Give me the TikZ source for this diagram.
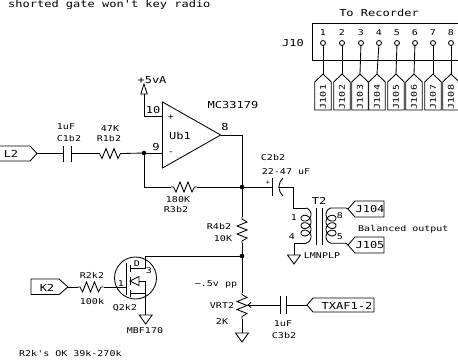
\documentclass[tikz,border=0pt]{standalone}
\usepackage{fontspec}
\newfontfamily\schfont[FakeStretch=1.25]{DejaVu Sans Mono}
\tikzset{
  wire/.style={line width=0.85pt,line join=miter},
  big/.style={inner sep=0pt,font=\schfont\fontsize{9.6}{10}\selectfont},
  small/.style={inner sep=0pt,font=\schfont\fontsize{8}{9}\selectfont},
  dot/.style={circle,fill=black,inner sep=0pt,minimum size=4.6pt},
  pin/.style={circle,draw,line width=0.85pt,fill=white,inner sep=0pt,minimum size=5pt},
  pics/resh/.style={code={\draw[wire] (-13,0)--(-10.5,0)--(-8,5)--(-4,-5)--(0,5)--(4,-5)--(8,5)--(10.5,0)--(13,0);}},
  pics/resv/.style={code={\draw[wire] (0,-13)--(0,-11)--(5,-8)--(-5,-4)--(5,0)--(-5,4)--(5,8)--(0,11)--(0,13);}},
  pics/gnd/.style={code={\draw[wire] (-6.5,0)--(6.5,0)--(0,9)--cycle;}},
  pics/vtag/.style={code={\draw[wire] (0,0)--(8.3,8)--(8.3,36)--(-8.3,36)--(-8.3,8)--cycle;}}
}
\begin{document}
\begin{tikzpicture}[x=1pt,y=-1pt]
\useasboundingbox (0,0) rectangle (458,360);
% named points
\coordinate (jout) at (242,187);
\coordinate (jin) at (144,153);
\coordinate (jmid) at (242,256);
\coordinate (tip) at (220.7,135);
\coordinate (ainv) at (162.5,153);
\coordinate (anon) at (162.5,116);
% title
\node[big,anchor=west] (title) at (8,5) {shorted gate won't key radio};
\node[small,anchor=west] (note) at (19,354) {R2k's OK 39k-270k};
% recorder block
\node[big] (rec) at (379,13) {To Recorder};
\node[big] (j10) at (293,43) {J10};
\draw[wire] (458,23)--(312,23)--(312,60)--(458,60);
\foreach \n/\px/\tx in {1/323/323,2/342/342,3/361/360,4/379/377,5/397/396,6/415/414,7/433/433,8/451/451}{
  \node[small] (num\n) at (\px,33) {\n};
  \node[pin] (p\n) at (\px,43) {};
  \coordinate (t\n) at (\tx,74);
  \draw[wire] (p\n)--(t\n);
  \path (t\n) pic {vtag};
  \node[small,rotate=90] (tl\n) at (\tx,97) {J10\n};
}
% op amp
\draw[wire] (162.5,102)--(162.5,168)--(tip)--cycle;
\node[big] (ubl) at (180,136) {Ub1};
\node[small] at (171,117) {+};
\node[small] at (171,153) {-};
\node[big] (mc) at (233,105) {MC33179};
\node[big] (l10) at (153,110) {10};
\node[big] (l9) at (156,147) {9};
\node[big] (l8) at (225,127) {8};
% supply
\coordinate (pw) at (144,94);
\draw[wire] (anon)-|(pw);
\draw[wire] (140.8,94)--(147.2,94)--(144,84)--cycle;
\node[big] (p5) at (152,80) {+5vA};
% L2 input
\coordinate (l2tip) at (37,153.5);
\draw[wire] (0,146)--(30,146)--(l2tip)--(30,161)--(0,161);
\node[big] (l2) at (11,154) {L2};
\coordinate (c1a) at (63,153.5);
\coordinate (c1b) at (71,153.5);
\draw[wire] (l2tip)--(c1a);
\draw[wire] (63,146)--(63,162);
\draw[wire] (71,146)--(71,162);
\path (110,153.5) coordinate (r1) pic {resh};
\draw[wire] (c1b)--(97,153.5);
\draw[wire] (123,153.5)--(jin);
\draw[wire] (jin)--(ainv);
\node[dot] at (jin) {};
\node[small] (c1v) at (66,127) {1uF};
\node[small] (c1n) at (69,139) {C1b2};
\node[small] (r1v) at (110,129) {47K};
\node[small] (r1n) at (109,139) {R1b2};
% feedback
\path (184,187) coordinate (r3) pic {resh};
\draw[wire] (jin)--(144,187)--(171,187);
\draw[wire] (197,187)--(jout);
\draw[wire] (tip)-|(jout);
\node[dot] at (jout) {};
\node[small] (r3v) at (178,200) {180K};
\node[small] (r3n) at (176,210) {R3b2};
% C2b2 and transformer
\draw[wire] (jout)--(272.7,187);
\draw[wire] (272.7,178)--(272.7,196);
\draw[wire] (283,178) .. controls (277.5,184) and (277.5,190) .. (283,196);
\draw[wire] (279,187)--(293,187)--(293,208)--(306,208);
\node[small] (c2n) at (273,158) {C2b2};
\node[small] (c2v) at (286,172) {22-47 uF};
\node[small,font=\schfont\fontsize{6}{7}\selectfont] at (268,183) {+};
\draw[wire] plot[smooth,domain=0:1260,samples=100] ({306+5*sin(\x)},{208+4.6*(1-cos(\x))+0.02063*\x});
\draw[wire] (306,243.2)--(294,243.2)--(294,255);
\path (294,255) pic {gnd};
\draw[wire] (316,208)--(316,245);
\draw[wire] (322,208)--(322,245);
\draw[wire] plot[smooth,domain=0:1260,samples=100] ({331-5*sin(\x)},{208+4.6*(1-cos(\x))+0.02063*\x});
\coordinate (j4tip) at (348,209);
\coordinate (j5tip) at (348,245);
\draw[wire] (331,208)--(346,208)--(j4tip);
\draw[wire] (331,243.2)--(346,243.2)--(j5tip);
\draw[wire] (j4tip)--(355,201)--(384,201)--(384,217)--(355,217)--cycle;
\draw[wire] (j5tip)--(355,237)--(384,237)--(384,253)--(355,253)--cycle;
\node[big] (j104) at (370,209) {J104};
\node[big] (j105) at (370,245) {J105};
\node[big] (t2) at (319,201) {T2};
\node[small] (n1) at (294,218) {1};
\node[small] (n4) at (292,237) {4};
\node[small] (n8) at (340,216) {8};
\node[small] (n5) at (340,237) {5};
\node[small,anchor=west] (bal) at (358,229) {Balanced output};
\node[small] (lmn) at (322,256) {LMNPLP};
% R4
\path (242,230) coordinate (r4) pic {resv};
\draw[wire] (jout)--(242,217);
\draw[wire] (242,243)--(jmid);
\node[dot] at (jmid) {};
\node[small] (r4n) at (219,227) {R4b2};
\node[small] (r4v) at (223,239) {10K};
% pot
\path (242,305.5) coordinate (vr) pic {resv};
\draw[wire] (jmid)--(242,292.5);
\draw[wire] (242,318.5)--(242,333);
\path (242,333) pic {gnd};
\node[small] (pp) at (216,284) {\~{}.5v pp};
\node[small] (vrn) at (222,306) {VRT2};
\node[small] (vrv) at (222,322) {2K};
\coordinate (wip) at (248,305);
\draw[wire] (wip)--(280,305);
\draw[wire] (251,302.5)--(wip)--(251,307.5);
\draw[wire] (280,296)--(280,314);
\draw[wire] (286,296)--(286,314);
\coordinate (txtip) at (307,305);
\draw[wire] (286,305)--(txtip);
\draw[wire] (txtip)--(313,298)--(374,298)--(374,312)--(313,312)--cycle;
\node[big] (tx) at (347,306) {TXAF1-2};
\node[small] (c3v) at (283,324) {1uF};
\node[small] (c3n) at (284,336) {C3b2};
% MOSFET
\coordinate (drn) at (145.7,268);
\coordinate (src) at (145.7,293);
\draw[wire] (jmid)-|(drn);
\draw[wire] (135.5,278) circle[radius=21];
\draw[wire] (130,268)--(drn);
\draw[wire] (130,293)--(src);
\draw[wire] (139,281)--(145.7,281)--(145.7,315);
\draw[wire] (130,281)--(139,276.5)--(139,285.5)--cycle;
\draw[wire] (130,264.5)--(130,272);
\draw[wire] (130,277)--(130,285);
\draw[wire] (130,289.5)--(130,297);
\draw[wire] (126,263)--(126,295);
\path (145.7,315) pic {gnd};
\node[small] (md) at (137,264) {D};
\node[small] (m3) at (149,271) {3};
\node[small] (m1) at (121,284) {1};
\node[small] (qn) at (125,308) {Q2k2};
\node[small] (qt) at (145,331) {MBF170};
% K2
\coordinate (k2tip) at (68,287);
\draw[wire] (k2tip)--(59,279)--(31,279)--(31,294.5)--(59,294.5)--cycle;
\node[big] (k2) at (47,288) {K2};
\path (90.5,287) coordinate (r2) pic {resh};
\draw[wire] (k2tip)--(77.5,287);
\draw[wire] (103.5,287)--(126,287);
\node[small] (r2n) at (92,275) {R2k2};
\node[small] (r2v) at (92,302) {100k};
\end{tikzpicture}
\end{document}
